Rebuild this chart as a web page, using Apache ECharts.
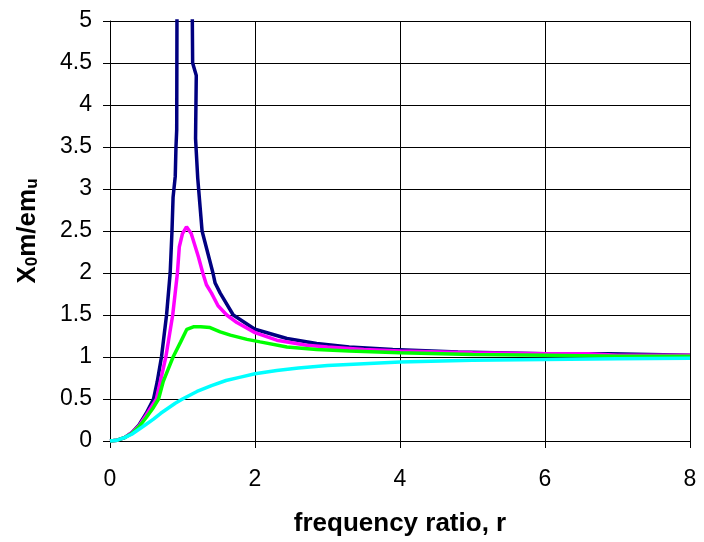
<!DOCTYPE html>
<html>
<head>
<meta charset="utf-8">
<script src="https://cdn.jsdelivr.net/npm/echarts@6/dist/echarts.min.js"></script>
<style>html,body{margin:0;padding:0;background:#fff}#c{width:704px;height:542px}</style>
</head>
<body>
<div id="c"></div>
<script>
// zeta ~ small (navy)
var navyR = [0,0.1,0.2,0.3,0.4,0.5,0.6,0.65,0.71,0.78,0.83,0.855,0.87,0.9,0.91,0.92,0.925,0.95,1.0,1.05,1.1,1.14,1.19,1.18,1.21,1.27,1.42,1.45,1.52,1.7,1.93,2.0,2.44,2.85,3.3,3.9,4.8,6.0,6.9,8.0];
var navyY = [0,0.01,0.04,0.10,0.19,0.33,0.5,0.7,1.0,1.5,2.0,2.5,2.9,3.15,3.5,3.7,5.5,9,10,9.8,9,4.5,4.35,3.6,3.13,2.5,2.0,1.88,1.76,1.5,1.37,1.33,1.22,1.16,1.12,1.09,1.06,1.04,1.04,1.02];
// magenta
var magR = [0,0.1,0.2,0.3,0.4,0.5,0.64,0.77,0.865,0.93,0.956,1.0,1.055,1.12,1.22,1.28,1.33,1.4,1.49,1.61,1.75,2.0,2.3,2.71,3.0,3.5,4.0,5.0,6.0,6.6,7.0,8.0];
var magY = [0,0.01,0.04,0.1,0.18,0.31,0.5,1.0,1.5,2.0,2.31,2.47,2.55,2.47,2.19,2.0,1.86,1.76,1.61,1.5,1.41,1.29,1.2,1.14,1.12,1.09,1.07,1.05,1.04,1.04,1.02,1.02];
// green
var grnR = [0,0.1,0.2,0.3,0.4,0.5,0.6,0.67,0.735,0.8,0.87,0.975,1.06,1.15,1.25,1.38,1.52,1.66,1.89,2.07,2.44,2.85,3.3,4.0,5.0,6.0,7.0,8.0];
var grnY = [0,0.01,0.04,0.09,0.17,0.28,0.4,0.5,0.71,0.85,1.0,1.18,1.33,1.36,1.36,1.35,1.3,1.26,1.21,1.18,1.12,1.09,1.07,1.05,1.03,1.02,1.01,1.01];
// cyan
var cyR = [0,0.1,0.2,0.3,0.4,0.5,0.6,0.7,0.8,0.9,1.0,1.2,1.4,1.6,1.8,2.0,2.3,2.6,3.0,3.5,4.0,5.0,6.0,7.0,8.0];
var cyY = [0,0.01,0.04,0.08,0.14,0.2,0.26,0.33,0.39,0.45,0.5,0.59,0.66,0.72,0.76,0.8,0.84,0.87,0.9,0.92,0.94,0.96,0.97,0.98,0.985];

var xTicks = [0,2,4,6,8];
var yTicks = [0,0.5,1,1.5,2,2.5,3,3.5,4,4.5,5];

function pairs(a,b){return a.map(function(v,i){return [v,b[i]];});}

var chart = echarts.init(document.getElementById('c'), null, {renderer:'canvas'});
var font = 'Liberation Sans, Arial, sans-serif';
function mk(name,color,r,y){
  return {type:'line',name:name,data:pairs(r,y),showSymbol:false,symbol:'none',
    lineStyle:{color:color,width:3.5},clip:true,animation:false};
}
chart.setOption({
  animation:false,
  backgroundColor:'#fff',
  grid:{left:110,right:14,top:21,bottom:95,containLabel:false},
  xAxis:{type:'value',min:0,max:8,interval:2,
    name:'frequency ratio, r',nameLocation:'middle',nameGap:70,
    nameTextStyle:{fontFamily:font,fontSize:26,fontWeight:'bold',color:'#000'},
    axisLine:{lineStyle:{color:'#000',width:1}},
    axisTick:{show:true,length:7,lineStyle:{color:'#000'}},
    axisLabel:{fontFamily:font,fontSize:23,color:'#000',margin:27,
      formatter:function(v){return xTicks.indexOf(v)>=0?String(v):'';}},
    splitLine:{show:true,lineStyle:{color:'#000',width:1}}
  },
  yAxis:{type:'value',min:0,max:5,interval:0.5,
    name:'{a|X}{s|0}{a|m/em}{s|u}',nameLocation:'middle',nameGap:69,nameRotate:90,
    nameTextStyle:{rich:{
      a:{fontFamily:font,fontSize:26,fontWeight:'bold',color:'#000'},
      s:{fontFamily:font,fontSize:17,fontWeight:'bold',color:'#000',verticalAlign:'bottom',padding:[10,0,0,0]}
    }},
    axisLine:{show:true,lineStyle:{color:'#000',width:1}},
    axisTick:{show:true,length:7,lineStyle:{color:'#000'}},
    axisLabel:{fontFamily:font,fontSize:23,color:'#000',margin:18,
      formatter:function(v){var t=yTicks.filter(function(k){return Math.abs(k-v)<1e-9;});return t.length?String(t[0]):'';}},
    splitLine:{show:true,lineStyle:{color:'#000',width:1}}
  },
  series:[
    mk('navy','#000080',navyR,navyY),
    mk('magenta','#FF00FF',magR,magY),
    mk('green','#00FF00',grnR,grnY),
    mk('cyan','#00FFFF',cyR,cyY)
  ]
});
</script>
</body>
</html>
